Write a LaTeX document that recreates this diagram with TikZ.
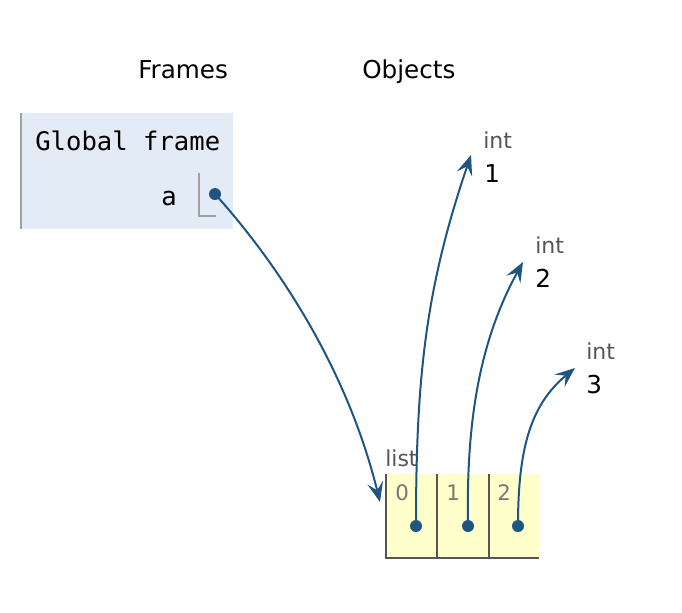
\documentclass[tikz,border=0pt]{standalone}
\usepackage{fontspec}
\setmainfont{DejaVu Sans}
\newfontfamily\codefont{DejaVu Sans Mono}
\usetikzlibrary{arrows.meta}
\definecolor{arrowblue}{HTML}{1F5581}
\definecolor{framebg}{HTML}{E2EBF6}
\definecolor{listbg}{HTML}{FFFFCC}
\definecolor{bordergray}{HTML}{A0A0A0}
\definecolor{listborder}{HTML}{555555}
\definecolor{labelgray}{HTML}{555555}
\definecolor{idxgray}{HTML}{777777}
\tikzset{
  x=0.75pt, y=-0.75pt,
  hdr/.style={anchor=base west, inner sep=0pt, font=\fontsize{18.5}{20}\selectfont},
  code/.style={anchor=base west, inner sep=0pt, font=\codefont\fontsize{19.2}{21}\selectfont},
  typelbl/.style={anchor=base west, inner sep=0pt, text=labelgray, font=\fontsize{16.5}{18}\selectfont},
  vallbl/.style={anchor=base west, inner sep=0pt, font=\fontsize{18.5}{20}\selectfont},
  idxlbl/.style={anchor=base west, inner sep=0pt, text=idxgray, font=\fontsize{16}{18}\selectfont},
  ptrdot/.style={circle, fill=arrowblue, inner sep=0pt, minimum size=9pt},
  ptr/.style={draw=arrowblue, line width=1.5pt, -{Stealth[length=15pt, width=12pt, inset=6pt]}},
}
\begin{document}
\begin{tikzpicture}
\useasboundingbox (0,0) rectangle (682,612);
% headers
\node[hdr] (frames) at (138,78) {Frames};
\node[hdr] (objects) at (362,78) {Objects};
% global frame
\fill[framebg] (20,113) rectangle (233,229);
\draw[bordergray, line width=1.5pt] (21,113) -- (21,229);
\node[code] (gf) at (35,150) {Global frame};
\node[code, anchor=base east] (va) at (177,205) {a};
\draw[bordergray, line width=1.5pt] (199,173) -- (199,216) -- (216,216);
\node[ptrdot] (pa) at (215,194) {};
% int objects
\node[typelbl] (t1) at (483,148) {int};
\node[vallbl] (v1) at (484,182) {1};
\node[typelbl] (t2) at (535,253) {int};
\node[vallbl] (v2) at (535,287) {2};
\node[typelbl] (t3) at (586,359) {int};
\node[vallbl] (v3) at (586,393) {3};
\coordinate (e1) at (471,155);
\coordinate (e2) at (523,262);
\coordinate (e3) at (575,368);
% list
\node[typelbl, text=labelgray] (ll) at (385,466) {list};
\fill[listbg] (386,474) rectangle (539,558);
\draw[listborder, line width=1.7pt] (386,474) -- (386,558) -- (539,558);
\draw[listborder, line width=1.7pt] (437,474) -- (437,558);
\draw[listborder, line width=1.7pt] (489,474) -- (489,558);
\node[idxlbl] (i0) at (395,500) {0};
\node[idxlbl] (i1) at (446,500) {1};
\node[idxlbl] (i2) at (497,500) {2};
\node[ptrdot] (p0) at (416,526) {};
\node[ptrdot] (p1) at (468,526) {};
\node[ptrdot] (p2) at (518,526) {};
\coordinate (lst) at (380,502);
% pointers
\draw[ptr] (pa.center) .. controls (270,255) and (345,360) .. (lst);
\draw[ptr] (p0.center) .. controls (416,380) and (425,290) .. (e1);
\draw[ptr] (p1.center) .. controls (466,420) and (480,340) .. (e2);
\draw[ptr] (p2.center) .. controls (518,450) and (530,405) .. (e3);
\end{tikzpicture}
\end{document}
